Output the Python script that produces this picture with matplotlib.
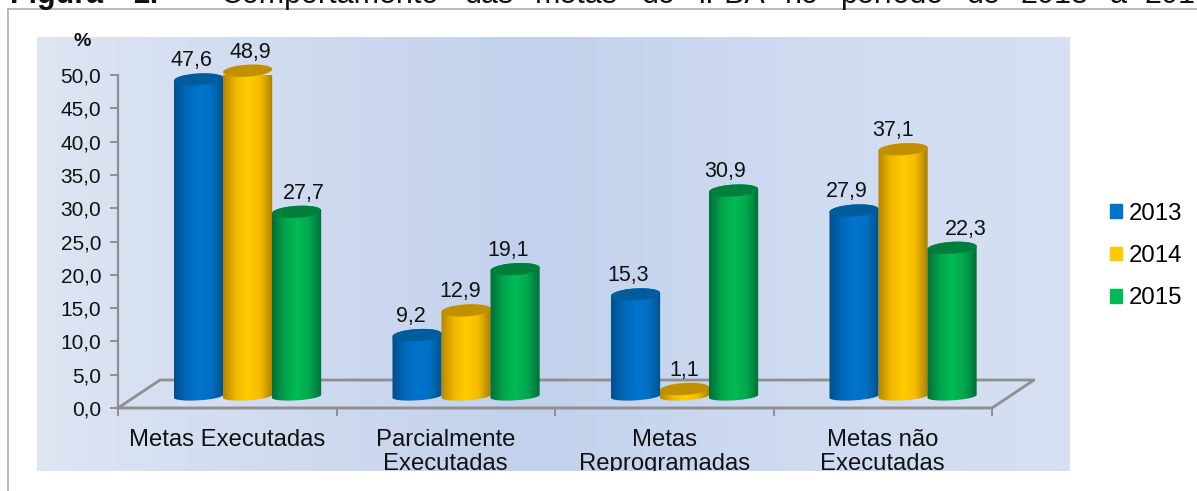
import numpy as np
import matplotlib
matplotlib.use("Agg")
import matplotlib.pyplot as plt
from matplotlib.colors import LinearSegmentedColormap
from matplotlib.patches import Patch, PathPatch
from matplotlib.path import Path
from matplotlib.transforms import Bbox, TransformedBbox

plt.rcParams['font.family'] = ['Liberation Sans', 'DejaVu Sans']

categorias = ["Metas Executadas", "Parcialmente\nExecutadas", "Metas\nReprogramadas", "Metas não\nExecutadas"]
anos = ["2013", "2014", "2015"]
v2013 = [47.6, 9.2, 15.3, 27.9]
v2014 = [48.9, 12.9, 1.1, 37.1]
v2015 = [27.7, 19.1, 30.9, 22.3]
yticks = [0, 5, 10, 15, 20, 25, 30, 35, 40, 45, 50]
titulo = ["Figura", "1:", "Comportamento", "das", "metas", "do", "IFBA", "no", "período", "de", "2013", "a", "2015"]

W, H = 1197, 491


def caixa(x0, y0, x1, y1):
    # pixels da imagem (y para baixo) -> fracao da figura
    return [x0 / W, 1 - y1 / H, (x1 - x0) / W, (y1 - y0) / H]


fig = plt.figure(figsize=(W / 100, H / 100), dpi=100, facecolor="white")

# titulo justificado, cortado na borda de cima como no original
x_titulo = [10, 132, 220, 465, 535, 642, 697, 785, 840, 967, 1020, 1110, 1145]
for k, palavra in enumerate(titulo):
    fig.text(x_titulo[k] / W, 1 - 3 / H, palavra, fontsize=22, va="baseline", ha="left", color="#111111", fontweight="bold" if k < 2 else "normal")

# moldura cinza
fig.add_artist(plt.Line2D([8 / W, 8 / W], [0, 1 - 9 / H], color="#b4b4b4", lw=1.3))
fig.add_artist(plt.Line2D([8 / W, 1], [1 - 9 / H, 1 - 9 / H], color="#b4b4b4", lw=1.3))

# fundo em gradiente
fundo = fig.add_axes(caixa(37, 37, 1070, 471), zorder=0)
fundo.imshow(np.linspace(0, 1, 256)[None, :], aspect="auto", cmap=LinearSegmentedColormap.from_list(
    "f", [(0, "#dee5f3"), (.48, "#c2d1ec"), (.75, "#cfdbf1"), (1, "#d6e0f1")]))
fundo.axis("off")

ax = fig.add_axes(caixa(118, 75, 992, 408), zorder=1)
ax.patch.set_alpha(0)

# cilindros
paletas = [["#00508c", "#0068b8", "#0074cc", "#0070c4", "#00528e"],
           ["#b38600", "#f0b800", "#ffcb00", "#f5bc00", "#ab8000"],
           ["#006f38", "#00a44c", "#00bb55", "#00a84e", "#00703a"]]
tampas = ["#005c9c", "#c09000", "#007f3c"]
desloc = [-0.2243, 0, 0.2243]
# ajuste horizontal dos rotulos, em pixels
ajuste = [[-7, -6, -7, -7], [3, -6, 0, -10], [7, -7, -8, 14]]
centro = 0.593
meia_larg = 0.1125
meia_alt = 0.9
alt_base = 0.6
incl = 0.22
base = 1.75
pxx = 4.0 / (992 - 118)
t = np.linspace(0, np.pi, 40)

for j, valores in enumerate([v2013, v2014, v2015]):
    cmap = LinearSegmentedColormap.from_list("c", paletas[j])
    for i, v in enumerate(valores):
        xc = i + centro + desloc[j]
        topo = base + v
        # contorno: lateral + fundo eliptico + topo
        xs_baixo = xc - meia_larg * np.cos(t)
        ys_baixo = base - alt_base * np.sin(t) - incl * np.cos(t)
        xs_cima = xc + meia_larg * np.cos(t)
        ys_cima = topo + meia_alt * np.sin(t) + incl * np.cos(t)
        xx = np.r_[xs_baixo, xs_cima, xs_baixo[0]]
        yy = np.r_[ys_baixo, ys_cima, ys_baixo[0]]
        corpo = Path(np.c_[xx, yy])
        im = ax.imshow(np.linspace(0, 1, 64)[None, :], cmap=cmap, aspect="auto", extent=[xc - meia_larg, xc + meia_larg, base - 2, topo + 2], zorder=3 + j, clip_on=True)
        im.set_clip_path(PathPatch(corpo, transform=ax.transData))
        # tampa
        tt = np.linspace(0, 2 * np.pi, 60)
        ax.fill(xc + meia_larg * np.cos(tt), topo + meia_alt * np.sin(tt) + incl * np.cos(tt), color=tampas[j], lw=0, zorder=3.1 + j, clip_on=False)
        ax.text(xc + ajuste[j][i] * pxx, topo + 2.8, f"{v:.1f}".replace(".", ","), ha="center", va="center", fontsize=15.5, color="#111111", zorder=10, clip_on=False)

ax.set_xlim(0, 4)
ax.set_ylim(0, 50)

# piso em perspectiva
dx, dy = 42 * pxx, 4.2
ax.plot([0, dx, 4 + dx, 4, 0], [0, dy, dy, 0, 0], color="#8f8f8f", lw=2, zorder=2, clip_on=False)

for lado in ["top", "right"]:
    ax.spines[lado].set_visible(False)
for lado in ["left", "bottom"]:
    ax.spines[lado].set_color("#8f8f8f")
    ax.spines[lado].set_linewidth(1.6)

ax.set_yticks(yticks)
ax.set_yticklabels([f"{v:.1f}".replace(".", ",") for v in yticks], fontsize=15, color="#111111")
ax.set_xticks([0, 1, 2, 3, 4])
ax.set_xticklabels([])
ax.set_xticks([.5, 1.5, 2.5, 3.5], minor=True)
ax.set_xticklabels(categorias, minor=True, fontsize=17.2, color="#111111", linespacing=1.1)
ax.tick_params(axis="y", length=6, width=1.4, color="#8f8f8f", pad=6)
ax.tick_params(axis="x", which="major", length=6, width=1.4, color="#8f8f8f")
ax.tick_params(axis="x", which="minor", length=0, pad=15)

# corta o texto na borda inferior do fundo
recorte = TransformedBbox(Bbox([[0, 0], [1, 1]]), fundo.transAxes)
for lab in ax.get_xticklabels(minor=True):
    lab.set_clip_on(True)
    lab.set_clip_box(recorte)

fig.text(82 / W, 1 - 41 / H, "%", fontsize=14, fontweight="bold", ha="center", va="center", color="#111111")

alcas = [Patch(color=paletas[k][2], label=anos[k]) for k in range(3)]
fig.legend(handles=alcas, loc="center left", bbox_to_anchor=(1110 / W, 1 - 256 / H), frameon=False, fontsize=17.3, handlelength=0.5, handleheight=0.5, handletextpad=0.27, labelspacing=0.85, borderpad=0, borderaxespad=0)

fig.savefig("out.png", dpi=100)
